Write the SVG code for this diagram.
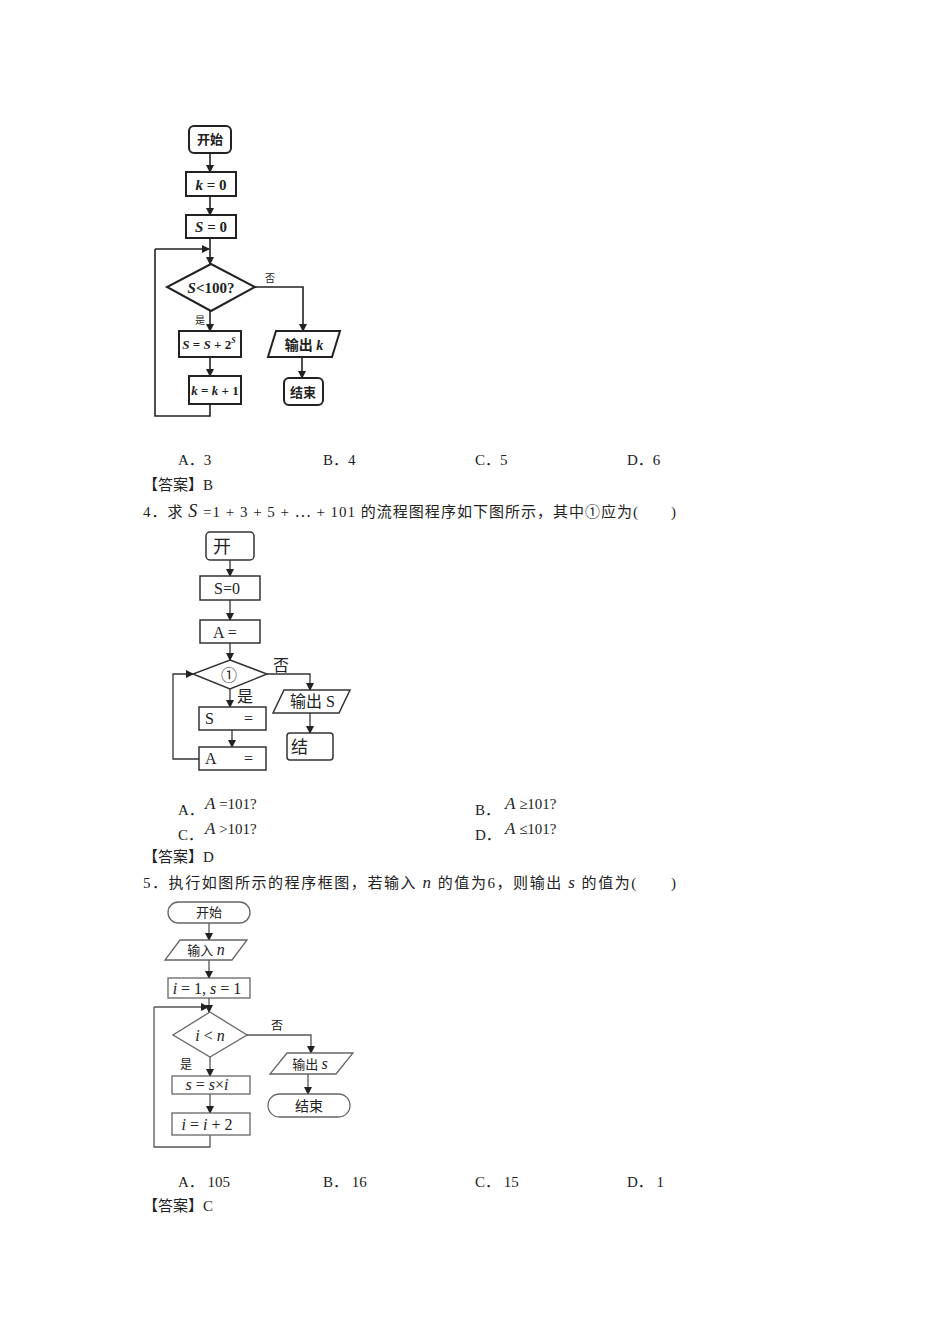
<svg xmlns="http://www.w3.org/2000/svg" width="950" height="1344" viewBox="0 0 950 1344">
<style>
text{font-family:"Liberation Serif","Noto Sans CJK SC",serif;font-size:15px;fill:#222}
.m{font-style:italic}
.f1 rect,.f1 path,.f1 polygon{fill:#fff;stroke:#222;stroke-width:2}
.f2 rect,.f2 path,.f2 polygon{fill:#fff;stroke:#333;stroke-width:1.5}
.f3 rect,.f3 path,.f3 polygon{fill:#fff;stroke:#666;stroke-width:1.3}
.c1 path{fill:none;stroke:#222;stroke-width:1.6}
.c2 path{fill:none;stroke:#333;stroke-width:1.3}
.c3 path{fill:none;stroke:#555;stroke-width:1.3}
.n{text-anchor:middle}
.b{font-weight:bold}
</style>
<defs>
<marker id="ar" markerWidth="8" markerHeight="8" refX="7" refY="4" orient="auto" markerUnits="userSpaceOnUse"><path d="M0,0 L8,4 L0,8 Z" fill="#222"/></marker>
</defs>
<rect width="950" height="1344" fill="#fff"/>

<!-- Diagram 1 -->
<g class="c1" id="conn1">
<path d="M210,153 V172" marker-end="url(#ar)"/>
<path d="M210,196 V215" marker-end="url(#ar)"/>
<path d="M210,238 V264" marker-end="url(#ar)"/>
<path d="M155,249 H209" marker-end="url(#ar)"/>
<path d="M210,311 V331" marker-end="url(#ar)"/>
<path d="M210,357 V376" marker-end="url(#ar)"/>
<path d="M210,404 V416 H155 V249"/>
<path d="M255,287 H303 V331" marker-end="url(#ar)"/>
<path d="M302,357 V378" marker-end="url(#ar)"/>
</g>
<g class="f1" id="d1-start"><rect x="189" y="126" width="42" height="27" rx="5"/><text class="n b" x="210" y="144" style="font-size:13px">开始</text></g>
<g class="f1" id="d1-k0"><rect x="186" y="172" width="50" height="24"/><text class="n b" x="211" y="190" style="font-size:15px"><tspan class="m">k</tspan> = 0</text></g>
<g class="f1" id="d1-s0"><rect x="186" y="215" width="50" height="23"/><text class="n b" x="211" y="232" style="font-size:15px"><tspan class="m">S</tspan> = 0</text></g>
<g class="f1" id="d1-dec"><polygon points="211,264 255,287 211,311 167,287"/><text class="n b" x="211" y="293" style="font-size:15px"><tspan class="m">S</tspan>&lt;100?</text></g>
<g class="f1" id="d1-sum"><rect x="179" y="331" width="62" height="26"/><text class="n b" x="209" y="349" style="font-size:13px"><tspan class="m">S</tspan> = <tspan class="m">S</tspan> + 2<tspan class="m" style="font-size:8px" dy="-6">S</tspan></text></g>
<g class="f1" id="d1-inc"><rect x="189" y="376" width="52" height="28"/><text class="n b" x="215" y="395" style="font-size:13px"><tspan class="m">k</tspan> = <tspan class="m">k</tspan> + 1</text></g>
<g class="f1" id="d1-out"><polygon points="276,331 340,331 332,357 268,357"/><text class="n b" x="304" y="350" style="font-size:14px">输出 <tspan class="m">k</tspan></text></g>
<g class="f1" id="d1-end"><rect x="284" y="378" width="39" height="27" rx="5"/><text class="n b" x="303" y="397" style="font-size:13px">结束</text></g>
<text x="265" y="282" style="font-size:10px">否</text>
<text x="195" y="324" style="font-size:10px">是</text>

<text x="178" y="465">A．3</text><text x="323" y="465">B．4</text><text x="475" y="465">C．5</text><text x="627" y="465">D．6</text>
<text x="143" y="490">【答案】B</text>
<text x="143" y="517" textLength="533" lengthAdjust="spacing">4．求 <tspan class="m" style="font-size:18px">S</tspan> =1 + 3 + 5 + ⋯ + 101 的流程图程序如下图所示，其中①应为(　　)</text>

<!-- Diagram 2 -->
<g class="c2" id="conn2">
<path d="M230,560 V576" marker-end="url(#ar)"/>
<path d="M230,600 V620" marker-end="url(#ar)"/>
<path d="M230,643 V660" marker-end="url(#ar)"/>
<path d="M230,689 V707" marker-end="url(#ar)"/>
<path d="M232,730 V747" marker-end="url(#ar)"/>
<path d="M199,759 H173 V674 H193" marker-end="url(#ar)"/>
<path d="M267,674 H310 V690" marker-end="url(#ar)"/>
<path d="M310,713 V733" marker-end="url(#ar)"/>
</g>
<g class="f2" id="d2-start"><rect x="206" y="532" width="48" height="28" rx="4"/><text x="213" y="553" style="font-size:18px">开</text></g>
<g class="f2" id="d2-s0"><rect x="200" y="576" width="60" height="24"/><text x="214" y="594" style="font-size:16px">S=0</text></g>
<g class="f2" id="d2-a"><rect x="200" y="620" width="60" height="23"/><text x="213" y="638" style="font-size:16px">A =</text></g>
<g class="f2" id="d2-dec"><polygon points="230,660 267,674 230,689 193,674"/><text x="221" y="681" style="font-size:16px">①</text></g>
<g class="f2" id="d2-s"><rect x="199" y="707" width="67" height="23"/><text x="205" y="724" style="font-size:16px">S</text><text x="244" y="724" style="font-size:16px">=</text></g>
<g class="f2" id="d2-a2"><rect x="199" y="747" width="67" height="23"/><text x="205" y="764" style="font-size:16px">A</text><text x="244" y="764" style="font-size:16px">=</text></g>
<g class="f2" id="d2-out"><polygon points="284,690 350,690 339,713 273,713"/><text x="290" y="707" style="font-size:16px">输出 S</text></g>
<g class="f2" id="d2-end"><rect x="287" y="733" width="46" height="27" rx="3"/><text x="291" y="753" style="font-size:17px">结</text></g>
<text x="273" y="671" style="font-size:16px">否</text>
<text x="237" y="702" style="font-size:16px">是</text>

<text x="178" y="815">A．</text><text x="205" y="809"><tspan class="m" style="font-size:17px">A</tspan> =101?</text>
<text x="475" y="815">B．</text><text x="505" y="809"><tspan class="m" style="font-size:17px">A</tspan> ≥101?</text>
<text x="178" y="840">C．</text><text x="205" y="834"><tspan class="m" style="font-size:17px">A</tspan> &gt;101?</text>
<text x="475" y="840">D．</text><text x="505" y="834"><tspan class="m" style="font-size:17px">A</tspan> ≤101?</text>
<text x="143" y="862">【答案】D</text>
<text x="143" y="888" textLength="533" lengthAdjust="spacing">5．执行如图所示的程序框图，若输入 <tspan class="m" style="font-size:17px">n</tspan> 的值为6，则输出 <tspan class="m" style="font-size:17px">s</tspan> 的值为(　　)</text>

<!-- Diagram 3 -->
<g class="c3" id="conn3">
<path d="M209,923 V940" marker-end="url(#ar)"/>
<path d="M209,960 V978" marker-end="url(#ar)"/>
<path d="M209,998 V1012" marker-end="url(#ar)"/>
<path d="M154,1007 H208" marker-end="url(#ar)"/>
<path d="M210,1057 V1076" marker-end="url(#ar)"/>
<path d="M210,1093 V1113" marker-end="url(#ar)"/>
<path d="M210,1135 V1147 H154 V1007"/>
<path d="M247,1035 H311 V1053" marker-end="url(#ar)"/>
<path d="M308,1074 V1094" marker-end="url(#ar)"/>
</g>
<g class="f3" id="d3-start"><rect x="168" y="902" width="82" height="21" rx="10.5"/><text class="n" x="209" y="917" style="font-size:13px">开始</text></g>
<g class="f3" id="d3-in"><polygon points="180,940 247,940 232,960 165,960"/><text class="n" x="206" y="955" style="font-size:13px">输入 <tspan class="m" style="font-size:16px">n</tspan></text></g>
<g class="f3" id="d3-init"><rect x="168" y="978" width="82" height="20"/><text class="n" x="207" y="994" style="font-size:16px"><tspan class="m">i</tspan> = 1, <tspan class="m">s</tspan> = 1</text></g>
<g class="f3" id="d3-dec"><polygon points="210,1012 247,1035 210,1057 173,1035"/><text class="n" x="210" y="1041" style="font-size:16px"><tspan class="m">i</tspan> &lt; <tspan class="m">n</tspan></text></g>
<g class="f3" id="d3-mul"><rect x="172" y="1076" width="78" height="18"/><text class="n" x="207" y="1090" style="font-size:16px"><tspan class="m">s</tspan> = <tspan class="m">s</tspan>×<tspan class="m">i</tspan></text></g>
<g class="f3" id="d3-inc"><rect x="172" y="1113" width="78" height="22"/><text class="n" x="207" y="1130" style="font-size:16px"><tspan class="m">i</tspan> = <tspan class="m">i</tspan> + 2</text></g>
<g class="f3" id="d3-out"><polygon points="287,1053 353,1053 336,1074 270,1074"/><text class="n" x="310" y="1069" style="font-size:13px">输出 <tspan class="m" style="font-size:16px">s</tspan></text></g>
<g class="f3" id="d3-end"><rect x="268" y="1094" width="82" height="23" rx="11.5"/><text class="n" x="309" y="1111" style="font-size:14px">结束</text></g>
<text x="271" y="1030" style="font-size:12px">否</text>
<text x="180" y="1069" style="font-size:12px">是</text>

<text x="178" y="1187">A．  105</text><text x="323" y="1187">B．  16</text><text x="475" y="1187">C．  15</text><text x="627" y="1187">D．  1</text>
<text x="143" y="1211">【答案】C</text>
</svg>
